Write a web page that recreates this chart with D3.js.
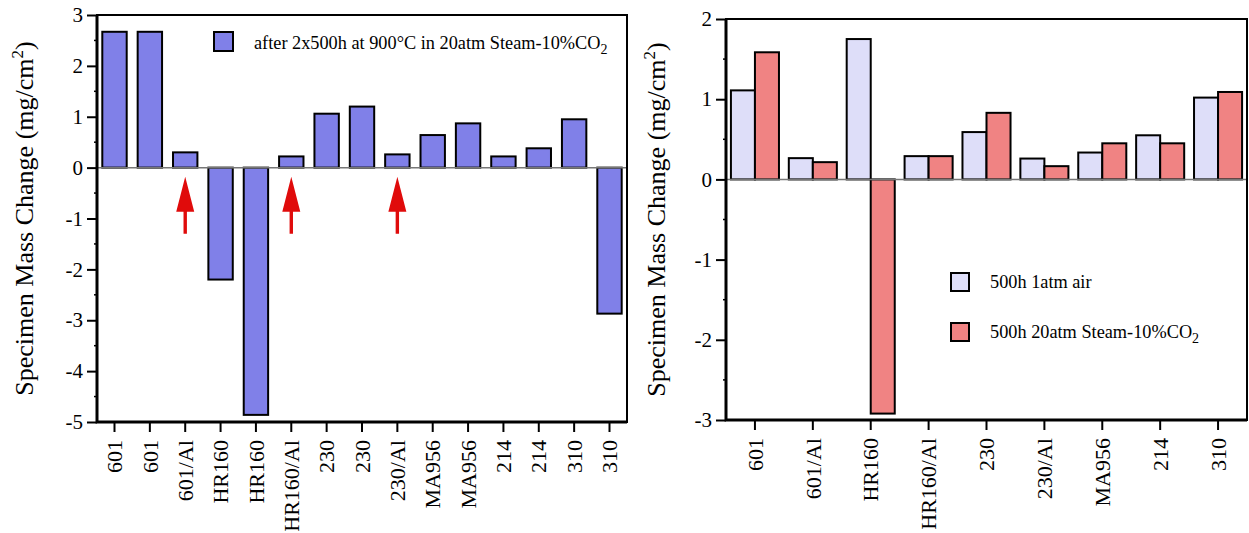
<!DOCTYPE html>
<html>
<head>
<meta charset="utf-8">
<script src="https://cdn.jsdelivr.net/npm/d3@7"></script>
<style>
  body { margin: 0; background: #fff; }
  svg { font-family: "Liberation Serif", "DejaVu Serif", serif; }
</style>
</head>
<body>
<div id="container"></div>
<script>
const WIDTH = 1249;
const HEIGHT = 533;

// left panel: 2x500h in steam-CO2
const leftCats = ['601', '601', '601/Al', 'HR160', 'HR160', 'HR160/Al', '230', '230', '230/Al',
                  'MA956', 'MA956', '214', '214', '310', '310'];
const leftVals = [2.67, 2.67, 0.30, -2.20, -4.86, 0.22, 1.06, 1.20, 0.26, 0.64, 0.87, 0.22, 0.38, 0.95, -2.87];
const arrowIdx = [2, 5, 8];   // coated specimens marked with arrows
const leftTicks = [3, 2, 1, 0, -1, -2, -3, -4, -5];

// right panel: 500h air vs 500h steam-CO2
const rightCats = ['601', '601/Al', 'HR160', 'HR160/Al', '230', '230/Al', 'MA956', '214', '310'];
const airVals   = [1.11, 0.265, 1.75, 0.29, 0.59, 0.26, 0.335, 0.55, 1.02];
const steamVals = [1.585, 0.215, -2.92, 0.29, 0.83, 0.165, 0.45, 0.45, 1.09];
const rightTicks = [2, 1, 0, -1, -2, -3];

const BLUE = '#8080e8';
const LAV = '#dedef9';
const CORAL = '#f08383';

const svg = d3.select('#container')
  .append('svg')
    .attr('width', WIDTH)
    .attr('height', HEIGHT);

// draws the frame, y axis with minor ticks, category axis and zero line
function panel(g, opts) {
  const { x, y, cats, ticks, labelX } = opts;
  const [x0, x1] = x.range();
  const [yb, yt] = y.range();   // bottom, top

  g.append('line')
    .attr('x1', x0).attr('x2', x1)
    .attr('y1', y(0)).attr('y2', y(0))
    .attr('stroke', '#777').attr('stroke-width', 1.5);

  // minor ticks
  const minor = d3.range(d3.min(ticks), d3.max(ticks), 0.5).filter(v => v % 1 !== 0);
  g.selectAll('.minor')
    .data(minor)
    .enter()
    .append('line')
      .attr('x1', x0 - 3).attr('x2', x0)
      .attr('y1', v => y(v)).attr('y2', v => y(v))
      .attr('stroke', '#000').attr('stroke-width', 1.5);

  const ya = g.append('g')
    .attr('transform', `translate(${x0},0)`)
    .call(d3.axisLeft(y).tickValues(ticks).tickSize(10).tickPadding(4)
      .tickFormat(d => String(d)));
  ya.select('.domain').remove();
  ya.selectAll('line').attr('stroke-width', 2);
  ya.selectAll('text').attr('font-size', 21).attr('font-family', 'Liberation Serif');

  const xa = g.append('g')
    .attr('transform', `translate(0,${yb})`)
    .call(d3.axisBottom(x).tickSize(10).tickPadding(6).tickFormat(i => cats[i]));
  xa.select('.domain').remove();
  xa.selectAll('line').attr('stroke-width', 2);
  xa.selectAll('text')
    .attr('font-size', 22).attr('font-family', 'Liberation Serif')
    .attr('transform', 'rotate(-90)')
    .attr('text-anchor', 'end')
    .attr('x', -18).attr('y', 0).attr('dy', '0.35em');

  // frame
  g.append('rect')
    .attr('x', x0).attr('y', yt)
    .attr('width', x1 - x0).attr('height', yb - yt)
    .attr('fill', 'none').attr('stroke', '#000').attr('stroke-width', 2);
  g.append('path')
    .attr('d', `M${x0},${yt}V${yb}H${x1}`)
    .attr('fill', 'none').attr('stroke', '#000').attr('stroke-width', 3);

  const t = g.append('text')
    .attr('transform', `translate(${labelX},${(yb + yt) / 2}) rotate(-90)`)
    .attr('text-anchor', 'middle')
    .attr('font-size', 26);
  t.append('tspan').text('Specimen Mass Change (mg/cm');
  t.append('tspan').attr('font-size', 17).attr('dy', -10).text('2');
  t.append('tspan').attr('dy', 10).text(')');
}

function legendLabel(g, xx, yy, parts) {
  const t = g.append('text').attr('x', xx).attr('y', yy).attr('font-size', 18.3);
  parts.forEach(p => {
    if (p.sub) t.append('tspan').attr('font-size', 14).attr('dy', 5).text(p.sub);
    else t.append('tspan').text(p.t);
  });
}

// ---------- left panel ----------
const gl = svg.append('g');
const xl = d3.scaleBand().domain(d3.range(leftCats.length)).range([97, 627]).paddingInner(0.31).paddingOuter(0.15);
const yl = d3.scaleLinear().domain([-5, 3]).range([422, 15]);

gl.selectAll('.bar')
  .data(leftVals)
  .enter()
  .append('rect')
    .attr('class', 'bar')
    .attr('x', (d, i) => xl(i))
    .attr('width', xl.bandwidth())
    .attr('y', d => yl(Math.max(0, d)))
    .attr('height', d => Math.abs(yl(d) - yl(0)))
    .attr('fill', BLUE).attr('stroke', '#000').attr('stroke-width', 2);

panel(gl, { x: xl, y: yl, cats: leftCats, ticks: leftTicks, labelX: 33 });

gl.selectAll('.arrow')
  .data(arrowIdx)
  .enter()
  .append('path')
    .attr('class', 'arrow')
    .attr('transform', i => `translate(${xl(i) + xl.bandwidth() / 2},${yl(0) + 9})`)
    .attr('d', 'M0,0L9,35H1.7V57H-1.7V35H-9Z')
    .attr('fill', '#e00b0b');

gl.append('rect')
  .attr('x', 214).attr('y', 32).attr('width', 19).attr('height', 19)
  .attr('fill', BLUE).attr('stroke', '#000').attr('stroke-width', 2);
legendLabel(gl, 254, 49, [{ t: 'after 2x500h at 900°C in 20atm Steam-10%CO' }, { sub: '2' }]);

// ---------- right panel ----------
const gr = svg.append('g');
const xr = d3.scaleBand().domain(d3.range(rightCats.length)).range([726, 1247]).paddingInner(0.17).paddingOuter(0.085);
const yr = d3.scaleLinear().domain([-3, 2]).range([420, 19]);
const half = xr.bandwidth() / 2;

const series = [
  { vals: airVals, fill: LAV, off: 0 },
  { vals: steamVals, fill: CORAL, off: half }
];
series.forEach(s => {
  gr.selectAll(null)
    .data(s.vals)
    .enter()
    .append('rect')
      .attr('x', (d, i) => xr(i) + s.off)
      .attr('width', half)
      .attr('y', d => yr(Math.max(0, d)))
      .attr('height', d => Math.abs(yr(d) - yr(0)))
      .attr('fill', s.fill).attr('stroke', '#000').attr('stroke-width', 2);
});

panel(gr, { x: xr, y: yr, cats: rightCats, ticks: rightTicks, labelX: 665 });

gr.append('rect')
  .attr('x', 951).attr('y', 273).attr('width', 18).attr('height', 18)
  .attr('fill', LAV).attr('stroke', '#000').attr('stroke-width', 2);
legendLabel(gr, 990, 288, [{ t: '500h 1atm air' }]);
gr.append('rect')
  .attr('x', 951).attr('y', 323).attr('width', 18).attr('height', 18)
  .attr('fill', CORAL).attr('stroke', '#000').attr('stroke-width', 2);
legendLabel(gr, 990, 338, [{ t: '500h 20atm Steam-10%CO' }, { sub: '2' }]);
</script>
</body>
</html>
